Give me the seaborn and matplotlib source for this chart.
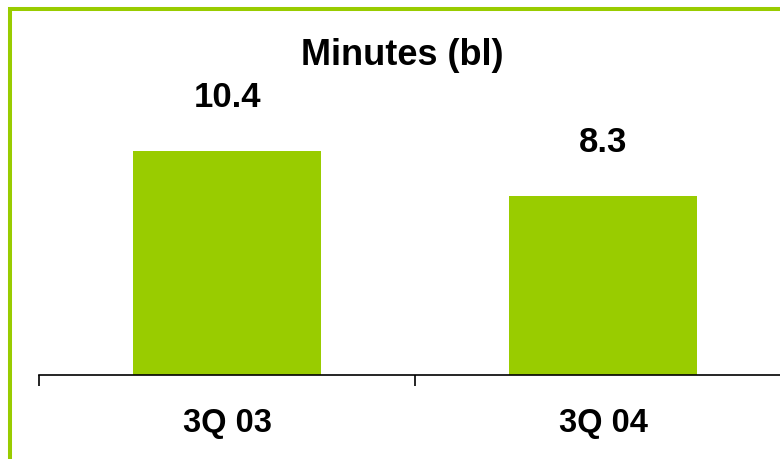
import matplotlib
matplotlib.use("Agg")
import matplotlib.pyplot as plt
import seaborn as sns
import pandas as pd
from matplotlib.patches import Rectangle
from matplotlib.ticker import FixedLocator

categories = ["3Q 03", "3Q 04"]
minutes = [10.4, 8.3]
title = "Minutes (bl)"
value_labels = ["10.4", "8.3"]

GREEN = "#99CC00"

sns.set_theme(style="white")
plt.rcParams["font.family"] = ["Liberation Sans", "DejaVu Sans"]

df = pd.DataFrame({"quarter": categories, "minutes": minutes})

fig = plt.figure(figsize=(7.8, 4.59), dpi=100)
W, H = 780, 459
ax = fig.add_axes([39 / W, (H - 375) / H, 752 / W, 355 / H])

sns.barplot(data=df, x="quarter", y="minutes", color=GREEN, saturation=1,
            width=0.5, ax=ax, edgecolor="none")

ax.set_xlim(-0.5, 1.5)
ax.set_ylim(0, 16.47)
ax.set_xlabel("")
ax.set_ylabel("")
ax.set_yticks([])
for s in ["left", "right", "top"]:
    ax.spines[s].set_visible(False)
ax.spines["bottom"].set_color("black")
ax.spines["bottom"].set_linewidth(1.2)

ax.set_xticks(range(len(categories)))
ax.set_xticklabels(categories, fontsize=23.5, fontweight="bold", color="black")
ax.tick_params(axis="x", which="major", length=0, pad=24)
ax.xaxis.set_minor_locator(FixedLocator([-0.5, 0.5, 1.5]))
ax.tick_params(axis="x", which="minor", length=8, width=1.2, color="black",
               direction="out", bottom=True)

for i, (v, lab) in enumerate(zip(minutes, value_labels)):
    ax.annotate(lab, xy=(i, v), xytext=(0, 31.7), textcoords="offset points",
                ha="center", va="baseline", fontsize=25, fontweight="bold",
                color="black")

fig.text(402 / W, (H - 65) / H, title, ha="center", va="baseline",
         fontsize=26, fontweight="bold", color="black")

fig.patches.append(Rectangle((9.5 / W, -0.5), 1.5, (H - 9) / H + 0.5,
                             transform=fig.transFigure, fill=False,
                             edgecolor=GREEN, linewidth=2.9, clip_on=False))

fig.savefig("out.png", dpi=100)
